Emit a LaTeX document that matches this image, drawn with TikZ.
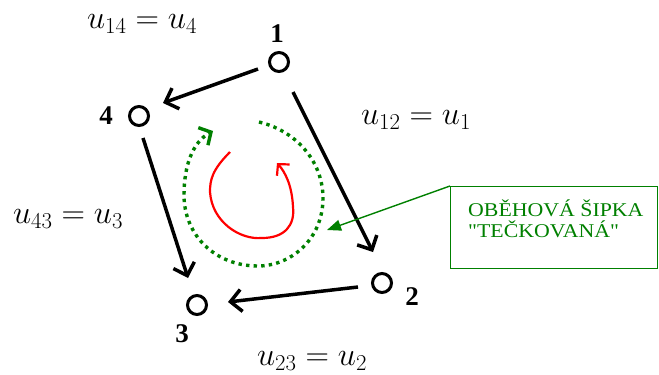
\RequirePackage{fix-cm}
\documentclass[tikz,border=0pt]{standalone}
\usepackage{fontspec}
\usepackage{amsmath}
\setmainfont{Liberation Serif}
\newfontfamily\boxfont[FakeStretch=1.12]{Liberation Serif}
\usetikzlibrary{arrows.meta}
\definecolor{dgreen}{RGB}{0,128,0}
\begin{document}
\begin{tikzpicture}[x=1pt,y=-1pt,
  vert/.style={circle,draw,line width=3pt,minimum size=19pt,inner sep=0pt},
  vlab/.style={font=\fontsize{27}{29}\selectfont\bfseries,inner sep=0pt},
  elab/.style={font=\fontsize{32.5}{34}\selectfont,inner sep=0pt},
  edge/.style={line width=3.5pt,-{Straight Barb[length=11pt,width=22pt,line width=3.5pt]}},
  notebox/.style={draw=dgreen,line width=1.3pt,minimum width=207pt,minimum height=82pt,inner sep=0pt},
  notetext/.style={text=dgreen,align=left,font=\boxfont\fontsize{19.5}{21}\selectfont,inner sep=0pt}]
\useasboundingbox (0,0) rectangle (659,375);
\node[vert] (n1) at (279,62) {};
\node[vert] (n4) at (139,116) {};
\node[vert] (n3) at (197,305) {};
\node[vert] (n2) at (382,283) {};
\node[vlab] (l1) at (277,34) {1};
\node[vlab] (l4) at (106,116) {4};
\node[vlab] (l3) at (182,334) {3};
\node[vlab] (l2) at (412,297) {2};
\node[elab] (e14) at (142,24) {$u_{14}=u_4$};
\node[elab] (e12) at (416,120) {$u_{12}=u_1$};
\node[elab] (e43) at (68,219) {$u_{43}=u_3$};
\node[elab] (e23) at (312,361) {$u_{23}=u_2$};
\coordinate (a1s) at (258,69);
\coordinate (a1e) at (163,103);
\coordinate (a2s) at (293,92);
\coordinate (a2e) at (373,252);
\coordinate (a3s) at (143,138);
\coordinate (a3e) at (188,278);
\coordinate (a4s) at (358,287);
\coordinate (a4e) at (228,302);
\draw[edge] (a1s) -- (a1e);
\draw[edge] (a2s) -- (a2e);
\draw[edge] (a3s) -- (a3e);
\draw[edge] (a4s) -- (a4e);
% dotted circulation arrow
\coordinate (d0) at (259,122);
\coordinate (d1) at (323,198);
\coordinate (d2) at (258,266);
\coordinate (d3) at (184,195);
\coordinate (d4) at (213,131);
\draw[dgreen,line width=3.4pt,dash pattern=on 3.4pt off 4.2pt,
  -{Straight Barb[length=9pt,width=20pt,line width=3.4pt]}]
  (d0) .. controls (300,132) and (323,165) .. (d1)
       .. controls (323,240) and (290,266) .. (d2)
       .. controls (215,266) and (184,235) .. (d3)
       .. controls (184,165) and (193,142) .. (d4);
% red arrow
\coordinate (r0) at (230,152);
\coordinate (r1) at (210,192);
\coordinate (r2) at (262,238);
\coordinate (r3) at (293,207);
\coordinate (r4) at (277,163);
\draw[red,line width=2.2pt,-{Straight Barb[length=8pt,width=17pt,line width=2.2pt]}]
  (r0) .. controls (212,170) and (210,180) .. (r1)
       .. controls (212,222) and (240,240) .. (r2)
       .. controls (285,238) and (295,225) .. (r3)
       .. controls (292,185) and (285,172) .. (r4);
\node[notebox,anchor=north west] (box) at (450,186) {};
\node[notetext,anchor=base west] (t1) at (468,216) {OBĚHOVÁ ŠIPKA};
\node[notetext,anchor=base west] (t2) at (468,237) {\symbol{34}TEČKOVANÁ\symbol{34}};
\coordinate (tip) at (327,230);
\draw[dgreen,line width=1.4pt,-{Triangle[length=14pt,width=11pt]}] (box.north west) -- (tip);
\end{tikzpicture}
\end{document}
